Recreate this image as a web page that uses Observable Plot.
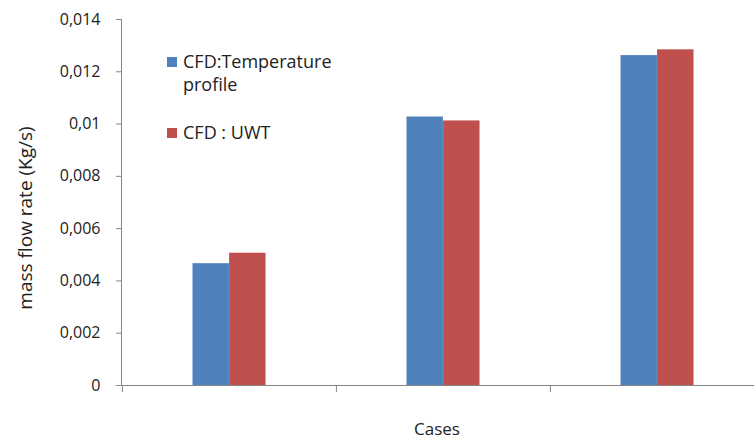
<!DOCTYPE html>
<html>
<head>
<meta charset="utf-8">
<script src="https://cdn.jsdelivr.net/npm/d3@7"></script>
<script src="https://cdn.jsdelivr.net/npm/@observablehq/plot@0.6"></script>
<style>
  html, body { margin: 0; padding: 0; background: #fff; }
  #wrap { position: relative; width: 754px; height: 439px; overflow: hidden; font-family: "Open Sans", sans-serif; color: #222; }
  #wrap svg { position: absolute; left: 0; top: 0; }
  .ytitle { position: absolute; left: 25px; top: 218px; transform: translate(-50%, -50%) rotate(-90deg); white-space: nowrap; font-size: 19px; line-height: 20px; }
  .xtitle { position: absolute; left: 437px; top: 429px; transform: translate(-50%, -50%); font-size: 17px; line-height: 18px; white-space: nowrap; }
  .leg-item { position: absolute; left: 167px; font-size: 18px; line-height: 23px; }
  .leg-sw { position: absolute; left: 0; width: 9.5px; height: 9.5px; }
  .leg-tx { position: absolute; left: 16px; top: 0; width: 165px; white-space: normal; }
</style>
</head>
<body>
<div id="wrap"></div>
<script>
const cases = ["Case 1", "Case 2", "Case 3"];
const seriesNames = ["CFD:Temperature profile", "CFD : UWT"];
const seriesColors = ["#4F81BD", "#C0504D"];
const temperatureProfile = [0.00466, 0.01027, 0.01262];
const uwt = [0.00506, 0.01012, 0.01284];
const yTicks = [0, 0.002, 0.004, 0.006, 0.008, 0.01, 0.012, 0.014];
const yTickLabels = ["0", "0,002", "0,004", "0,006", "0,008", "0,01", "0,012", "0,014"];
const yTitle = "mass flow rate (Kg/s)";
const xTitle = "Cases";

const tickLabel = new Map(yTicks.map((t, i) => [t, yTickLabels[i]]));
const rows1 = cases.map((c, i) => ({case: c, value: temperatureProfile[i]}));
const rows2 = cases.map((c, i) => ({case: c, value: uwt[i]}));

const axisGray = "#868686";
const xRange = [121.5, 764];
const step = (xRange[1] - xRange[0]) / cases.length;
const barW = 36.6;
const outer = (step - 2 * barW) / 2;

const chart = Plot.plot({
  width: 754,
  height: 439,
  marginLeft: 121,
  marginRight: -10,
  marginTop: 19,
  marginBottom: 54,
  style: {fontFamily: "Open Sans", background: "white"},
  x: {type: "band", domain: cases, range: xRange, padding: 0, axis: null},
  y: {domain: [0, 0.014], axis: null},
  marks: [
    Plot.barY(rows1, {x: "case", y: "value", fill: seriesColors[0], insetLeft: outer, insetRight: outer + barW}),
    Plot.barY(rows2, {x: "case", y: "value", fill: seriesColors[1], insetLeft: outer + barW, insetRight: outer}),
    Plot.ruleY([0], {stroke: axisGray, strokeWidth: 1}),
    Plot.frame({anchor: "left", stroke: axisGray}),
    Plot.axisX({tickSize: 7, dx: -step / 2, tickFormat: () => "", stroke: axisGray, label: null}),
    Plot.axisY({ticks: yTicks, tickFormat: d => tickLabel.get(d), tickSize: 5, tickPadding: 16, stroke: axisGray, fill: "#222", fontSize: 16, label: null})
  ]
});

const wrap = document.getElementById("wrap");
wrap.appendChild(chart);

const yt = document.createElement("div");
yt.className = "ytitle"; yt.textContent = yTitle; wrap.appendChild(yt);
const xt = document.createElement("div");
xt.className = "xtitle"; xt.textContent = xTitle; wrap.appendChild(xt);

const legTops = [50, 121];
seriesNames.forEach((name, i) => {
  const item = document.createElement("div");
  item.className = "leg-item";
  item.style.top = legTops[i] + "px";
  const sw = document.createElement("div");
  sw.className = "leg-sw";
  sw.style.background = seriesColors[i];
  sw.style.top = "7px";
  const tx = document.createElement("div");
  tx.className = "leg-tx";
  tx.textContent = name;
  item.appendChild(sw); item.appendChild(tx);
  wrap.appendChild(item);
});
</script>
</body>
</html>
